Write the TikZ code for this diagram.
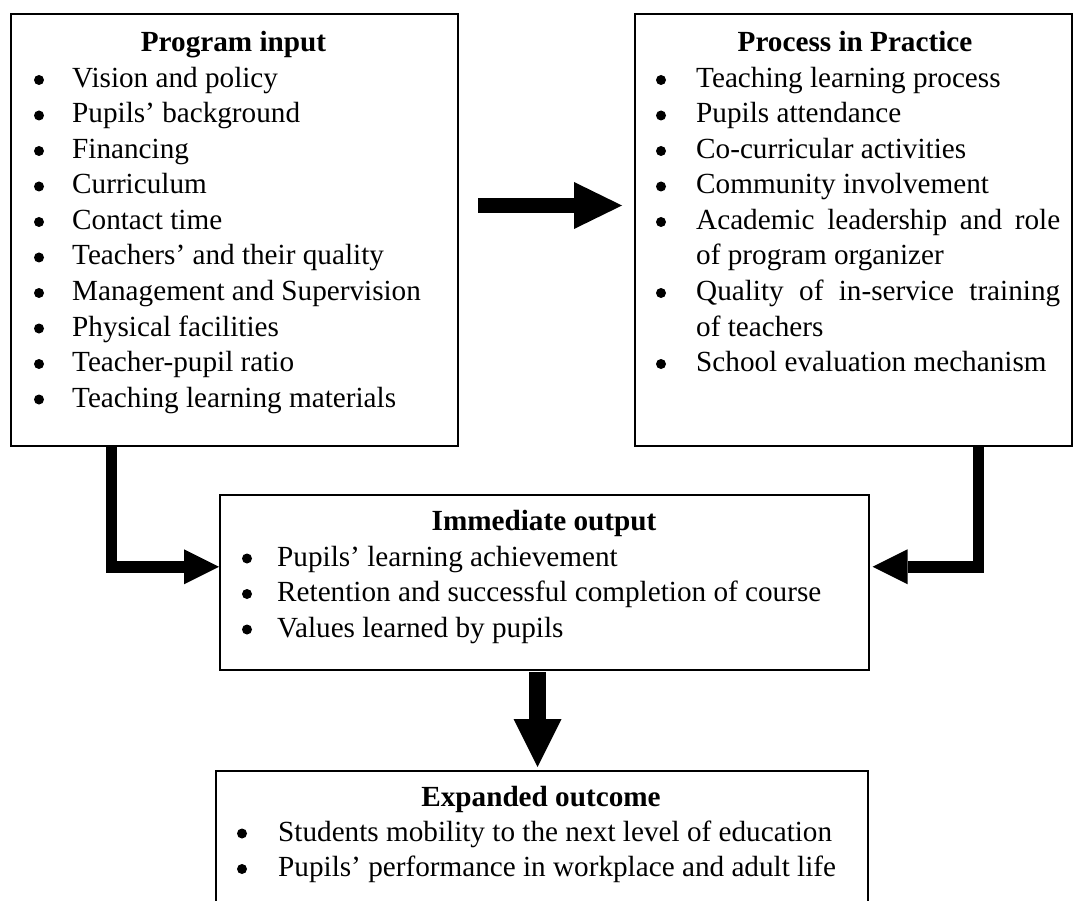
\documentclass[tikz,border=0pt]{standalone}
\usepackage{fontspec}
\setmainfont{Liberation Serif}
\usetikzlibrary{arrows.meta}

\tikzset{
  panel/.style={draw, line width=1.6pt, inner sep=0pt, anchor=north west},
  head/.style={font=\fontsize{29.2}{35.5}\selectfont\bfseries, anchor=base, inner sep=0pt},
  entry/.style={font=\fontsize{29.2}{35.5}\selectfont, anchor=base west, inner sep=0pt},
  blob/.style={circle, fill, inner sep=0pt, minimum size=10pt, yshift=7.5pt},
  fatarrow/.style n args={3}{line width=#1, line join=miter,
    -{Triangle[length=#2, width=#3, line width=0pt]}}
}

\begin{document}
\begin{tikzpicture}[x=1pt, y=-1pt]
    \clip (0,0) rectangle (1073,901);
    % Draw boxes
    \node [panel, minimum width=447pt, minimum height=432pt] (input) at (10,13) {};
    \node [panel, minimum width=437pt, minimum height=432pt] (process) at (634,13) {};
    \node [panel, minimum width=649pt, minimum height=175pt] (output) at (219,494) {};
    \node [panel, minimum width=652pt, minimum height=200pt] (outcome) at (215,770) {};
    % Program input
    \node [head] (input-title) at (233.5,52) {Program input};
    \foreach \txt [count=\i from 0] in {Vision and policy, Pupils’ background,
        Financing, Curriculum, Contact time, Teachers’ and their quality,
        Management and Supervision, Physical facilities, Teacher-pupil ratio,
        Teaching learning materials} {
        \node [blob] (input-dot-\i) at (39,87.5+35.5*\i) {};
        \node [entry] (input-item-\i) at (72,87.5+35.5*\i) {\txt};
    }
    % Process in Practice
    \node [head] (process-title) at (855,52) {Process in Practice};
    \foreach \k in {0,1,2,3,4,6,8}
        \node [blob] (process-dot-\k) at (661,87.5+35.5*\k) {};
    \node [entry] (process-item-0) at (696,87.5) {Teaching learning process};
    \node [entry] (process-item-1) at (696,123) {Pupils attendance};
    \node [entry] (process-item-2) at (696,158.5) {Co-curricular activities};
    \node [entry] (process-item-3) at (696,194) {Community involvement};
    \node [entry] (process-item-4) at (696,229.5) {\makebox[364pt][s]{Academic leadership and role}};
    \node [entry] (process-item-5) at (696,265) {of program organizer};
    \node [entry] (process-item-6) at (696,300.5) {\makebox[364pt][s]{Quality of in-service training}};
    \node [entry] (process-item-7) at (696,336) {of teachers};
    \node [entry] (process-item-8) at (696,371.5) {School evaluation mechanism};
    % Immediate output
    \node [head] (output-title) at (544,530.5) {Immediate output};
    \foreach \txt [count=\i from 0] in {Pupils’ learning achievement,
        Retention and successful completion of course, Values learned by pupils} {
        \node [blob] (output-dot-\i) at (247,566+35.5*\i) {};
        \node [entry] (output-item-\i) at (277,566+35.5*\i) {\txt};
    }
    % Expanded outcome
    \node [head] (outcome-title) at (541,806) {Expanded outcome};
    \foreach \txt [count=\i from 0] in {Students mobility to the next level of education,
        Pupils’ performance in workplace and adult life} {
        \node [blob] (outcome-dot-\i) at (242,841+35.5*\i) {};
        \node [entry] (outcome-item-\i) at (278,841+35.5*\i) {\txt};
    }
    % Draw arrows
    \coordinate (hstart) at (478,205.5);
    \coordinate (hend) at (622,205.5);
    \coordinate (ldrop) at (111.5,445);
    \coordinate (rdrop) at (978.5,445);
    \coordinate (dstart) at (537.5,672);
    \coordinate (dend) at (537.5,767);
    \draw [fatarrow={15pt}{48pt}{47pt}] (hstart) -- (hend);
    \draw [fatarrow={11.5pt}{35pt}{35pt}] (ldrop) |- ([yshift=15.5pt]output.west);
    \draw [fatarrow={11.5pt}{35pt}{35pt}] (rdrop) |- ([xshift=3pt,yshift=15.5pt]output.east);
    \draw [fatarrow={17pt}{48pt}{48pt}] (dstart) -- (dend);
\end{tikzpicture}
\end{document}
